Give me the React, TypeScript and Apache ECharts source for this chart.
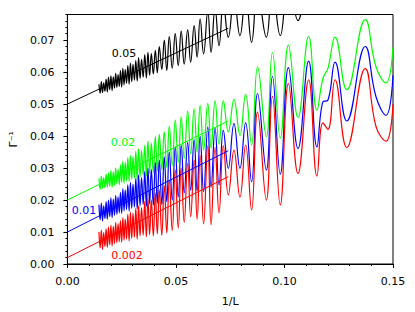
import React, { useEffect, useRef } from "react";
import * as echarts from "echarts";

// shared 1/L positions of the curve extrema
const XS = [
  0.01454, 0.01509, 0.01564, 0.01619, 0.01674, 0.01729, 0.01784, 0.01839, 0.01894, 0.0195,
  0.02005, 0.0206, 0.02115, 0.0217, 0.02225, 0.0228, 0.02335, 0.0239, 0.02445, 0.025,
  0.02555, 0.0261, 0.02665, 0.02725, 0.02784, 0.02844, 0.02904, 0.02963, 0.03023, 0.03087,
  0.03151, 0.03216, 0.0328, 0.03349, 0.03417, 0.03491, 0.03564, 0.03638, 0.03711, 0.03789,
  0.03867, 0.03959, 0.0405, 0.04142, 0.04234, 0.04349, 0.04463, 0.04578, 0.04693, 0.0483,
  0.04968, 0.05106, 0.05243, 0.05381, 0.05541, 0.05679, 0.05839, 0.05977, 0.06115, 0.06275,
  0.06468, 0.06619, 0.06803, 0.06986, 0.07183, 0.07413, 0.07674, 0.0795, 0.08211, 0.08486,
  0.08761, 0.09165, 0.09445, 0.09807, 0.10183, 0.10624, 0.11115, 0.11495, 0.11771, 0.12,
  0.1233, 0.12872, 0.1372, 0.1422, 0.14679, 0.15,
];

const BLACK = [
  0.0562, 0.0534, 0.057, 0.0536, 0.0566, 0.054, 0.0578, 0.0538, 0.0584, 0.0545,
  0.0588, 0.0542, 0.0585, 0.055, 0.0596, 0.0552, 0.0592, 0.0555, 0.0605, 0.0553,
  0.0612, 0.056, 0.0608, 0.0565, 0.062, 0.0562, 0.0628, 0.057, 0.0624, 0.0575,
  0.0636, 0.0572, 0.0645, 0.058, 0.064, 0.0584, 0.0655, 0.0582, 0.0662, 0.059,
  0.0658, 0.0594, 0.0668, 0.0598, 0.068, 0.0608, 0.07, 0.0605, 0.0711, 0.0612,
  0.072, 0.0621, 0.0728, 0.0625, 0.0732, 0.0631, 0.0745, 0.0647, 0.0766, 0.0657,
  0.079, 0.0662, 0.08, 0.0683, 0.0815, 0.0709, 0.083, 0.0714, 0.084, 0.0693,
  0.085, 0.0709, 0.086, 0.0714, 0.088, 0.0761, 0.092, 0.085, 0.09, 0.092,
  0.1, 0.09, 0.105, 0.098, 0.095, 0.1,
];

const GREEN = [
  0.0268, 0.0233, 0.0275, 0.0236, 0.027, 0.0238, 0.0281, 0.024, 0.0285, 0.0242,
  0.0292, 0.0239, 0.0288, 0.0246, 0.03, 0.025, 0.0296, 0.0248, 0.031, 0.0255,
  0.0322, 0.0252, 0.0318, 0.026, 0.0333, 0.0258, 0.034, 0.0265, 0.0336, 0.0268,
  0.0352, 0.0262, 0.036, 0.0272, 0.0355, 0.0278, 0.0372, 0.0275, 0.0384, 0.0283,
  0.0378, 0.0285, 0.0398, 0.029, 0.0405, 0.0295, 0.0413, 0.0302, 0.043, 0.0308,
  0.045, 0.0318, 0.046, 0.033, 0.0478, 0.0345, 0.0485, 0.035, 0.0496, 0.0356,
  0.0502, 0.0362, 0.051, 0.0375, 0.0511, 0.0413, 0.0514, 0.0403, 0.053, 0.0372,
  0.0616, 0.0398, 0.0662, 0.0393, 0.0684, 0.0458, 0.0712, 0.0481, 0.058, 0.0611,
  0.0709, 0.0545, 0.0764, 0.0616, 0.0566, 0.0678,
];

const BLUE = [
  0.0185, 0.0138, 0.019, 0.0135, 0.0182, 0.0142, 0.0195, 0.014, 0.02, 0.0148,
  0.0207, 0.0145, 0.0203, 0.0152, 0.0215, 0.0155, 0.021, 0.016, 0.0224, 0.0158,
  0.0236, 0.0166, 0.0232, 0.017, 0.0248, 0.0165, 0.0255, 0.0174, 0.025, 0.0178,
  0.0268, 0.0172, 0.0278, 0.0182, 0.027, 0.0186, 0.029, 0.018, 0.03, 0.0188,
  0.0295, 0.0184, 0.0318, 0.019, 0.0325, 0.0186, 0.0335, 0.0195, 0.035, 0.02,
  0.0365, 0.021, 0.0372, 0.0222, 0.038, 0.0231, 0.0389, 0.0228, 0.04, 0.0226,
  0.0429, 0.024, 0.0425, 0.0247, 0.0418, 0.0299, 0.0439, 0.0299, 0.0441, 0.0257,
  0.0533, 0.0294, 0.0587, 0.0281, 0.0614, 0.0361, 0.0634, 0.0366, 0.0507, 0.0512,
  0.0631, 0.0447, 0.068, 0.0522, 0.0465, 0.059,
];

const RED = [
  0.01, 0.005, 0.0106, 0.0046, 0.0098, 0.0055, 0.011, 0.0052, 0.0115, 0.006,
  0.0122, 0.0056, 0.0118, 0.0064, 0.013, 0.0066, 0.0126, 0.007, 0.0136, 0.0068,
  0.0145, 0.0074, 0.014, 0.0078, 0.0156, 0.0072, 0.0162, 0.008, 0.0158, 0.0084,
  0.0174, 0.0078, 0.0182, 0.0088, 0.0176, 0.009, 0.0196, 0.0085, 0.0205, 0.0092,
  0.02, 0.0088, 0.0222, 0.0094, 0.0232, 0.009, 0.0245, 0.0098, 0.0262, 0.0105,
  0.0294, 0.0112, 0.03, 0.013, 0.0315, 0.0148, 0.0325, 0.014, 0.034, 0.0125,
  0.0369, 0.0122, 0.0365, 0.016, 0.0369, 0.0216, 0.0356, 0.0209, 0.0372, 0.0169,
  0.0475, 0.02, 0.0524, 0.0185, 0.0564, 0.0283, 0.0576, 0.0275, 0.0441, 0.0421,
  0.0576, 0.0364, 0.0611, 0.0429, 0.0384, 0.05,
];

// straight fits: x range and end values
const FIT_X = [0, 0.0741];
const FIT_BLACK = [0.05, 0.0737];
const FIT_GREEN = [0.02, 0.0447];
const FIT_BLUE = [0.01, 0.0354];
const FIT_RED = [0.002, 0.0273];

const SERIES_NAMES = ["0.05", "0.02", "0.01", "0.002"];
const X_TICKS = [0, 0.05, 0.1, 0.15];
const Y_TICKS = [0, 0.01, 0.02, 0.03, 0.04, 0.05, 0.06, 0.07];
const Y_MAX = 0.078;

const FONT = "DejaVu Sans";

export default function App() {
  const ref = useRef<HTMLDivElement>(null);
  useEffect(() => {
    const chart = echarts.init(ref.current!, null, { renderer: "svg" });
    const pair = (ys: number[]) => XS.map((x, i) => [x, ys[i]]);
    const fit = (ys: number[]) => FIT_X.map((x, i) => [x, ys[i]]);
    const curve = (name: string, ys: number[], color: string) => ({
      type: "line",
      name,
      data: pair(ys),
      smooth: 0.45,
      showSymbol: false,
      symbol: "none",
      clip: true,
      lineStyle: { color, width: 1.2 },
      z: 2,
    });
    const fitLine = (ys: number[], color: string) => ({
      type: "line",
      data: fit(ys),
      showSymbol: false,
      symbol: "none",
      lineStyle: { color, width: 1 },
      z: 3,
    });
    const txt = (text: string, x: number, y: number, color: string) => ({
      type: "text",
      x,
      y,
      z: 10,
      style: {
        text,
        fill: color,
        font: `11px "${FONT}"`,
        textAlign: "center",
        textVerticalAlign: "middle",
        align: "center",
        verticalAlign: "middle",
      },
    });
    const labelStyle = { fontFamily: FONT, fontSize: 11, color: "#000" };
    chart.setOption({
      animation: false,
      backgroundColor: "#fff",
      grid: {
        left: 67,
        right: 22,
        top: 14.5,
        bottom: 48,
        show: true,
        borderColor: "#000",
        borderWidth: 1,
      },
      xAxis: {
        type: "value",
        min: X_TICKS[0],
        max: X_TICKS[X_TICKS.length - 1],
        interval: 0.05,
        name: "1/L",
        nameLocation: "middle",
        nameGap: 32,
        nameTextStyle: labelStyle,
        axisLine: { lineStyle: { color: "#000", width: 1 } },
        axisTick: { length: 4, lineStyle: { color: "#000" } },
        minorTick: { show: true, splitNumber: 5, length: 2, lineStyle: { color: "#000" } },
        splitLine: { show: false },
        axisLabel: { ...labelStyle, margin: 12, formatter: (v: number) => v.toFixed(2) },
      },
      yAxis: [
        {
          type: "value",
          min: 0,
          max: Y_MAX,
          position: "left",
          name: "Γ⁻¹",
          nameLocation: "middle",
          nameGap: 45,
          nameRotate: 90,
          nameTextStyle: labelStyle,
          axisLine: { lineStyle: { color: "#000", width: 1 } },
          axisTick: { length: 4, lineStyle: { color: "#000" }, customValues: Y_TICKS },
          splitLine: { show: false },
          axisLabel: {
            ...labelStyle,
            margin: 13,
            customValues: Y_TICKS,
            formatter: (v: number) => v.toFixed(2),
          },
        },
        {
          type: "value",
          min: 0,
          max: Y_MAX,
          interval: 0.002,
          position: "left",
          axisLine: { show: false },
          axisTick: { length: 2, lineStyle: { color: "#000" } },
          axisLabel: { show: false },
          splitLine: { show: false },
        },
      ],
      series: [
        curve(SERIES_NAMES[0], BLACK, "#000000"),
        curve(SERIES_NAMES[1], GREEN, "#00ff00"),
        curve(SERIES_NAMES[2], BLUE, "#0000ff"),
        curve(SERIES_NAMES[3], RED, "#ff0000"),
        fitLine(FIT_BLACK, "#000000"),
        fitLine(FIT_GREEN, "#00ff00"),
        fitLine(FIT_BLUE, "#0000ff"),
        fitLine(FIT_RED, "#ff0000"),
      ],
      graphic: [
        txt(SERIES_NAMES[0], 124, 53, "#000000"),
        txt(SERIES_NAMES[1], 123, 142.5, "#00ff00"),
        txt(SERIES_NAMES[2], 84, 210.5, "#0000ff"),
        txt(SERIES_NAMES[3], 127, 255.5, "#ff0000"),
      ],
    });
    return () => chart.dispose();
  }, []);
  return (
    <div
      ref={ref}
      style={{ position: "absolute", left: 0, top: 0, width: 415, height: 312 }}
    />
  );
}
